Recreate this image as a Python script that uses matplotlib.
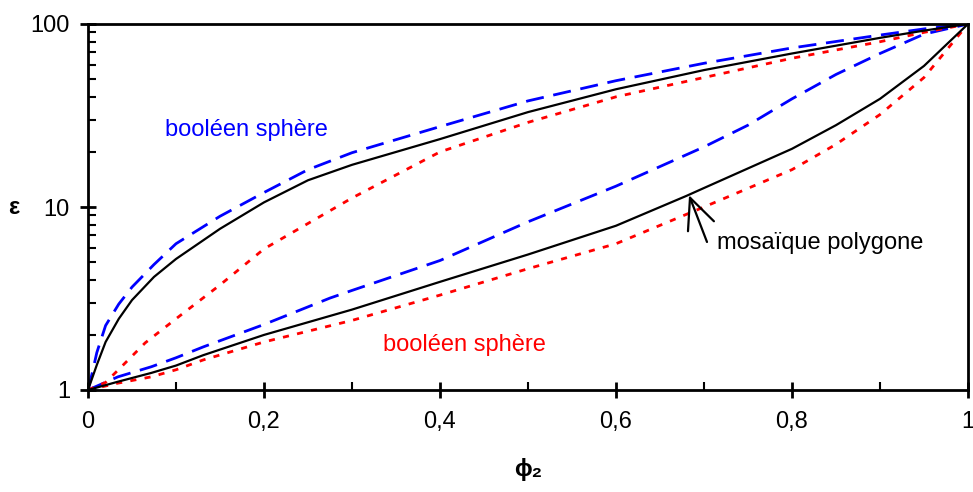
import numpy as np
import matplotlib
matplotlib.use("Agg")
import matplotlib.pyplot as plt
from matplotlib.ticker import FixedLocator, LogLocator, NullFormatter

plt.rcParams['font.family'] = ['Liberation Sans', 'DejaVu Sans']

# courbes du haut
x_up_noir = [0, 0.01, 0.02, 0.035, 0.05, 0.075, 0.1, 0.15, 0.2, 0.25, 0.3, 0.4, 0.5, 0.6, 0.7, 0.8, 0.9, 0.95, 1.0]
y_up_noir = [1, 1.37, 1.83, 2.45, 3.1, 4.15, 5.2, 7.6, 10.6, 14, 17, 23.5, 33, 44, 56, 69, 84, 92, 100]

x_up_bleu = [0, 0.005, 0.01, 0.02, 0.035, 0.05, 0.075, 0.1, 0.15, 0.2, 0.25, 0.3, 0.4, 0.5, 0.6, 0.7, 0.8, 0.9, 0.95, 1.0]
y_up_bleu = [1, 1.25, 1.6, 2.25, 2.95, 3.65, 4.85, 6.3, 8.9, 12, 16, 19.8, 27.5, 38, 49, 61, 74, 87, 94, 100]

x_up_rouge = [0, 0.02, 0.038, 0.065, 0.1, 0.15, 0.2, 0.3, 0.4, 0.5, 0.6, 0.7, 0.8, 0.9, 0.95, 1.0]
y_up_rouge = [1, 1.1, 1.34, 1.81, 2.45, 3.75, 5.9, 11.2, 20, 29, 40, 51, 65, 80, 90, 100]

# courbes du bas
x_bas_bleu = [0, 0.034, 0.072, 0.1, 0.131, 0.2, 0.275, 0.3, 0.4, 0.5, 0.6, 0.7, 0.75, 0.8, 0.85, 0.9, 0.95, 1.0]
y_bas_bleu = [1, 1.18, 1.34, 1.5, 1.72, 2.28, 3.18, 3.5, 5.1, 8.3, 13, 21.3, 28, 39, 53, 69, 88, 100]

x_bas_noir = [0, 0.034, 0.072, 0.1, 0.131, 0.2, 0.3, 0.4, 0.5, 0.6, 0.68, 0.7, 0.8, 0.85, 0.9, 0.95, 1.0]
y_bas_noir = [1, 1.11, 1.24, 1.36, 1.55, 2.0, 2.75, 3.9, 5.5, 7.9, 11.5, 12.7, 20.8, 28, 39, 59, 100]

x_bas_rouge = [0, 0.034, 0.072, 0.1, 0.131, 0.2, 0.3, 0.4, 0.5, 0.6, 0.7, 0.8, 0.85, 0.9, 0.95, 1.0]
y_bas_rouge = [1, 1.09, 1.18, 1.29, 1.46, 1.83, 2.4, 3.3, 4.6, 6.3, 10, 16, 22, 32, 51, 100]

x_ticks = [0, 0.2, 0.4, 0.6, 0.8, 1.0]
x_ticklabels = ['0', '0,2', '0,4', '0,6', '0,8', '1']
y_ticks = [1, 10, 100]
y_ticklabels = ['1', '10', '100']

fig = plt.figure(figsize=(9.73, 4.92), dpi=100)
ax = fig.add_axes([88 / 973, 102 / 492, 880 / 973, 366 / 492])

bleu = (0, 0, 1)
rouge = (1, 0, 0)
ax.plot(x_up_bleu, y_up_bleu, color=bleu, lw=2.0, ls=(0, (6.5, 3.5)))
ax.plot(x_bas_bleu, y_bas_bleu, color=bleu, lw=2.0, ls=(0, (6.5, 3.5)))
ax.plot(x_up_rouge, y_up_rouge, color=rouge, lw=2.0, ls=(0, (2.2, 3.0)))
ax.plot(x_bas_rouge, y_bas_rouge, color=rouge, lw=2.0, ls=(0, (2.2, 3.0)))
ax.plot(x_up_noir, y_up_noir, color='black', lw=1.6)
ax.plot(x_bas_noir, y_bas_noir, color='black', lw=1.6)

ax.set_yscale('log')
ax.set_xlim(0, 1)
ax.set_ylim(1, 100)

ax.xaxis.set_major_locator(FixedLocator(x_ticks))
ax.set_xticklabels(x_ticklabels)
ax.xaxis.set_minor_locator(FixedLocator([0.1, 0.3, 0.5, 0.7, 0.9]))
ax.yaxis.set_major_locator(FixedLocator(y_ticks))
ax.set_yticklabels(y_ticklabels)
ax.yaxis.set_minor_locator(LogLocator(base=10, subs=np.arange(2, 10)))
ax.yaxis.set_minor_formatter(NullFormatter())

ax.tick_params(which='major', direction='inout', length=12, width=2, labelsize=17)
ax.tick_params(axis='x', which='major', pad=9)
ax.tick_params(axis='y', which='major', pad=7)
ax.tick_params(which='minor', direction='in', length=6, width=1.5)
ax.tick_params(top=False, right=False, which='both')
for s in ax.spines.values():
    s.set_linewidth(2)

ax.set_ylabel('ε', rotation=0, fontsize=17, fontweight='bold', labelpad=12, va='center')
ax.set_xlabel('ϕ₂', fontsize=17, fontweight='bold', labelpad=18)

ax.text(0.0875, 26.4, 'booléen sphère', color=bleu, fontsize=17, va='center', ha='left')
ax.text(0.335, 1.76, 'booléen sphère', color=rouge, fontsize=17, va='center', ha='left')
ax.text(0.715, 6.36, 'mosaïque polygone', color='black', fontsize=17, va='center', ha='left')
ax.annotate('', xy=(0.683, 11.6), xytext=(0.7034, 6.44),
            arrowprops=dict(arrowstyle='->, head_length=2.2, head_width=1.0',
                            color='black', lw=1.6, mutation_scale=10, shrinkA=0, shrinkB=0))

fig.savefig('out.png', dpi=100)
